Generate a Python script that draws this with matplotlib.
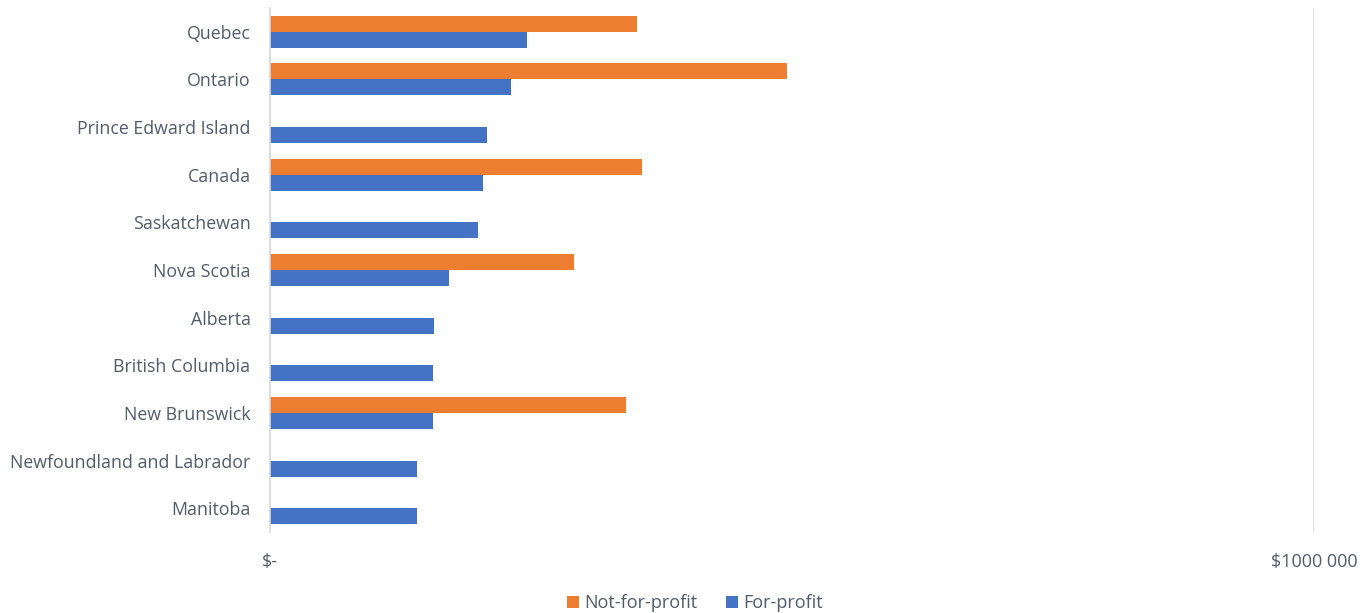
import matplotlib
matplotlib.use("Agg")
import matplotlib.pyplot as plt
import numpy as np
from matplotlib.ticker import FixedLocator, FixedFormatter

plt.rcParams['font.family'] = ['Open Sans', 'DejaVu Sans']

# Average annual cost per province/territory, by operator type
provinces = [
    "Quebec", "Ontario", "Prince Edward Island", "Canada", "Saskatchewan",
    "Nova Scotia", "Alberta", "British Columbia", "New Brunswick",
    "Newfoundland and Labrador", "Manitoba",
]
not_for_profit = [352000, 495000, 0, 356000, 0, 291000, 0, 0, 341000, 0, 0]
for_profit = [246000, 231000, 208000, 204000, 199000, 171000, 157000, 156000,
              156000, 141000, 141000]

xticks = [0, 1000000]
xtick_labels = ["$-", "$1000 000"]

ORANGE = "#ED7D31"
BLUE = "#4472C4"
TEXT = "#505B6C"

fig = plt.figure(figsize=(13.70, 6.13), dpi=100)
ax = fig.add_axes([270/1370, 1 - 532/613, (1314 - 270)/1370, (532 - 8)/613])

n = len(provinces)
y = np.arange(n)[::-1].astype(float)
h = 0.336

ax.barh(y + h/2, not_for_profit, height=h, color=ORANGE, label="Not-for-profit", zorder=3)
ax.barh(y - h/2, for_profit, height=h, color=BLUE, label="For-profit", zorder=3)

ax.set_ylim(-0.5, n - 0.5)
ax.set_xlim(0, 1000000)

ax.set_yticks(y)
ax.set_yticklabels(provinces, fontsize=12.8, color=TEXT)
ax.xaxis.set_major_locator(FixedLocator(xticks))
ax.xaxis.set_major_formatter(FixedFormatter(xtick_labels))
ax.tick_params(axis='x', labelsize=13, labelcolor=TEXT, length=0, pad=15)
ax.tick_params(axis='y', length=0, pad=14)

for s in ["top", "right", "bottom"]:
    ax.spines[s].set_visible(False)
ax.spines["left"].set_color("#D9D9D9")
ax.spines["left"].set_linewidth(1.2)
ax.spines["left"].set_zorder(4)

ax.xaxis.grid(True, color="#D9D9D9", linewidth=1.2, zorder=0)
ax.set_axisbelow(True)

leg = fig.legend(loc="center", bbox_to_anchor=(695/1370, 1 - 603/613), ncol=2,
                 frameon=False, fontsize=13, handlelength=0.65, handleheight=0.65,
                 handletextpad=0.3, columnspacing=1.6)
for t in leg.get_texts():
    t.set_color(TEXT)

fig.savefig("out.png", dpi=100, facecolor="white")
